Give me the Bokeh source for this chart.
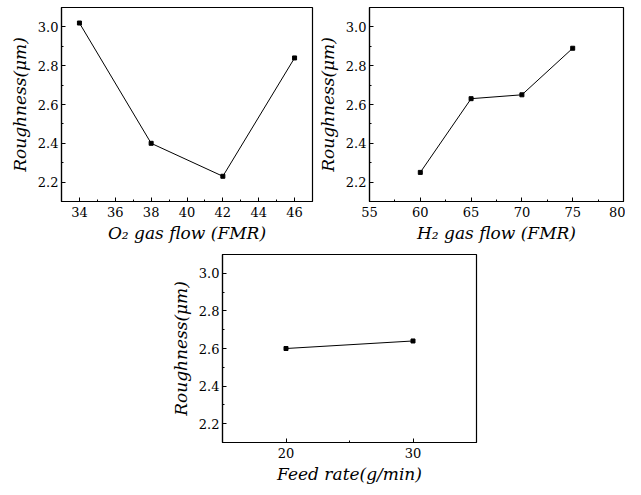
from bokeh.plotting import figure
from bokeh.layouts import column, row
from bokeh.models import FixedTicker, Range1d, Spacer, NumeralTickFormatter
from bokeh.embed import file_html
from bokeh.resources import INLINE

# Data
o2_flow = [34, 38, 42, 46]
o2_rough = [3.02, 2.40, 2.23, 2.84]
h2_flow = [60, 65, 70, 75]
h2_rough = [2.25, 2.63, 2.65, 2.89]
feed_rate = [20, 30]
feed_rough = [2.60, 2.64]

o2_ticks = [34, 36, 38, 40, 42, 44, 46]
h2_ticks = [55, 60, 65, 70, 75, 80]
feed_ticks = [20, 30]
y_ticks = [2.2, 2.4, 2.6, 2.8, 3.0]

y_label = "Roughness(μm)"
FONT = "DejaVu Serif"


def make_panel(xs, ys, xr, xticks, xminor, xlabel, width, height, bl, bt, bb, br):
    p = figure(width=width, height=height, output_backend="svg", toolbar_location=None,
               x_range=Range1d(*xr), y_range=Range1d(2.1, 3.1),
               min_border_left=bl, min_border_top=bt, min_border_bottom=bb,
               min_border_right=br)
    p.grid.visible = False
    p.outline_line_color = "black"
    p.outline_line_width = 1.2
    p.line(xs, ys, line_color="black", line_width=1)
    p.scatter(xs, ys, marker="square", size=4, color="black")

    p.xaxis.ticker = FixedTicker(ticks=xticks, minor_ticks=xminor)
    p.yaxis.ticker = FixedTicker(ticks=y_ticks,
                                 minor_ticks=[2.1, 2.3, 2.5, 2.7, 2.9, 3.1])
    p.yaxis.formatter = NumeralTickFormatter(format="0.0")
    for ax in (p.xaxis[0], p.yaxis[0]):
        ax.axis_line_color = "black"
        ax.axis_line_width = 1.2
        ax.major_tick_in = 4
        ax.major_tick_out = 0
        ax.minor_tick_in = 2
        ax.minor_tick_out = 0
        ax.major_tick_line_color = "black"
        ax.minor_tick_line_color = "black"
        ax.major_label_text_font = FONT
        ax.major_label_text_font_size = "13px"
        ax.major_label_text_color = "black"
        ax.axis_label_text_font = FONT
        ax.axis_label_text_font_style = "italic"
        ax.axis_label_text_font_size = "17px"
        ax.axis_label_text_color = "black"
    p.xaxis.major_label_standoff = 5
    p.yaxis.major_label_standoff = 3
    p.xaxis.axis_label = xlabel
    p.yaxis.axis_label = y_label
    p.xaxis.axis_label_standoff = 3
    p.yaxis.axis_label_standoff = 5
    return p


p1 = make_panel(o2_flow, o2_rough, (33, 47), o2_ticks, [35, 37, 39, 41, 43, 45],
                "O₂ gas flow (FMR)", 308, 240, 53, 1, 44, 2)
p2 = make_panel(h2_flow, h2_rough, (55, 80), h2_ticks,
                [57.5, 62.5, 67.5, 72.5, 77.5],
                "H₂ gas flow (FMR)", 311, 240, 53, 1, 45, 2)
p3 = make_panel(feed_rate, feed_rough, (15, 35), feed_ticks, [25],
                "Feed rate(g/min)", 311, 240, 53, 8, 39, 2)

layout = column(Spacer(width=10, height=6),
                row(Spacer(width=6, height=10), p1, p2),
                row(Spacer(width=167, height=10), p3))

open("out.html", "w").write(file_html(layout, INLINE))
